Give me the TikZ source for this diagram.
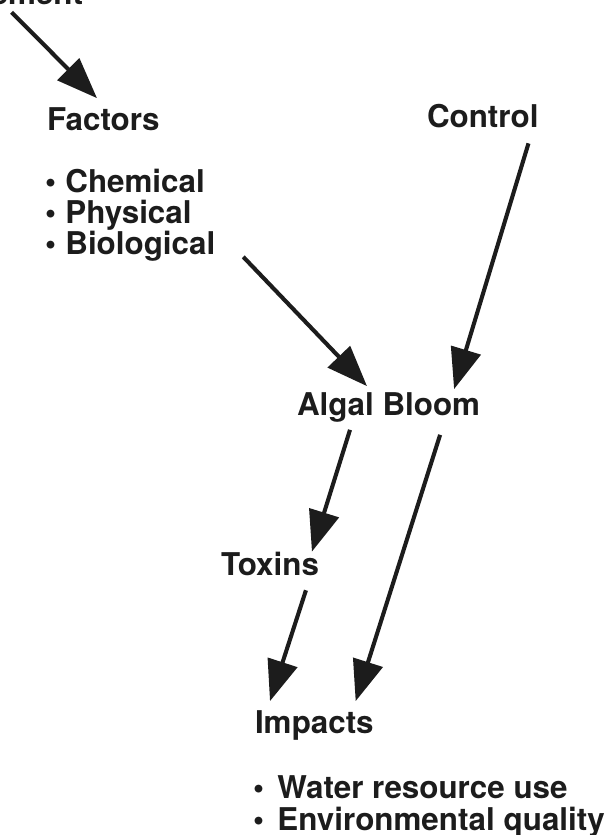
\documentclass[tikz,border=0pt]{standalone}
\usepackage{fontspec}
\setmainfont{TeX Gyre Heros}
\usepackage{xcolor}
\definecolor{inkblack}{RGB}{28,28,28}
\usepackage{tikz}
\usetikzlibrary{arrows.meta, calc}

\tikzset{
  lbl/.style={font=\fontsize{22.3}{26}\selectfont\bfseries, text=inkblack, inner sep=0pt, outer sep=0pt},
  arr/.style={draw=inkblack, fill=inkblack, line width=2.9pt, -{Triangle[length=1.02cm, width=0.76cm]}}
}

\begin{document}
\begin{tikzpicture}[x=0.025cm, y=-0.025cm]
  % Page frame (pixel grid of the original)
  \useasboundingbox (0,0) rectangle (614,835);
  \clip (0,0) rectangle (614,835);

  % --- Upper part: what drives the bloom ---
  \node[lbl, anchor=base east] (topword) at (83,5) {ement};
  \node[lbl, anchor=base west] (factors) at (47,130) {Factors};
  \node[lbl, anchor=base west] (chem) at (45,192) {•\hspace{0.3em}Chemical};
  \node[lbl, anchor=base west] (phys) at (45,223) {•\hspace{0.3em}Physical};
  \node[lbl, anchor=base west] (bio) at (45,254) {•\hspace{0.3em}Biological};
  \node[lbl, anchor=base west] (control) at (427,127) {Control};

  % --- Middle: the bloom and its toxins ---
  \node[lbl, anchor=base west] (bloom) at (297,415) {Algal Bloom};
  \node[lbl, anchor=base west] (toxins) at (221,575) {Toxins};

  % --- Lower part: consequences ---
  \node[lbl, anchor=base west] (impacts) at (255,733) {Impacts};
  \node[lbl, anchor=base west] (water) at (253,798) {•\hspace{0.43em}Water resource use};
  \node[lbl, anchor=base west] (envq) at (253,830) {•\hspace{0.43em}Environmental quality};

  % Arrows
  \draw[arr] ($(topword.south west)+(21,7)$) -- ($(factors.north west)+(50,-9)$);
  \draw[arr] ($(bio.south east)+(28,-4)$) -- ($(bloom.north west)+(70,-6)$);
  \draw[arr] ($(control.south east)+(-10,16)$) -- ($(bloom.north east)+(-26,-3)$);
  \draw[arr] ($(bloom.south west)+(53,8)$) -- ($(toxins.north east)+(-7,0)$);
  \draw[arr] ($(bloom.south east)+(-40,13)$) -- ($(impacts.north east)+(-18,-9)$);
  \draw[arr] ($(toxins.south east)+(-13,15)$) -- ($(impacts.north west)+(15,-9)$);
\end{tikzpicture}
\end{document}
